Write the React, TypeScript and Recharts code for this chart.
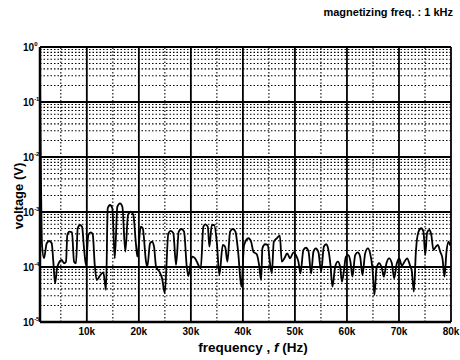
import React from "react";
import { LineChart, Line, XAxis, YAxis, ReferenceLine } from "recharts";

const freqHz = [
  1000, 1390, 1770, 2290, 2790, 3250, 3560, 3890, 4330, 5170, 5620, 6000, 6250, 6640, 7150, 7540, 7920, 8250, 8690, 9080, 9460, 9850,
  10290, 10750, 11140, 11520, 11900, 12400, 13170, 13690, 14020, 14460, 14900, 15370, 15870, 16380, 16830, 17400, 17920, 18440, 18940, 19460, 19710,
  20370, 20750, 21380, 21630, 22150, 22540, 22920, 23310, 23940, 24460, 24980, 25670, 26130, 26630, 27150, 27670, 28170, 28690, 29210, 29520,
  30230, 30810, 31440, 31900, 32400, 32790, 33250, 33560, 34020, 34460, 34980, 35480, 36130, 36580, 37020, 37540, 38060, 38560, 39080, 39710,
  40230, 41060, 41580, 42020, 42670, 43110, 43500, 43750, 44270, 44790, 45170, 45560, 45940, 46520, 47100, 47480, 47980, 48500, 49080, 49710,
  50170, 50670, 51060, 51630, 52100, 52600, 53120, 53560, 54020, 54520, 55040, 55560, 56000, 56440, 56830, 57210, 57730, 58250, 58690, 59020, 59400, 59790,
  60290, 60670, 61060, 61580, 62090, 62540, 62980, 63500, 64020, 64460, 64900, 65290, 65670, 66190, 66710, 67090, 67590, 68110, 68630, 69070, 69590,
  70040, 70560, 71060, 71570, 72090, 72480, 72860, 73250, 73750, 74270, 74710, 75040, 75420, 75810, 76190, 76630, 77100, 77480, 77920, 78360, 78750, 79130, 79520, 79850, 80000,
];

const voltageV = [
  0.3, 2.51e-4, 1.44e-4, 2.7e-4, 2.97e-4, 2.7e-4, 1.25e-4, 5.06e-5, 1.01e-4, 1.34e-4, 1.17e-4, 1.25e-4, 3.82e-4, 4.38e-4, 4.27e-4, 1.25e-4, 1.17e-4, 5.06e-4, 5.8e-4, 5.41e-4, 2.19e-4, 1.06e-4,
  3.82e-4, 4.27e-4, 3.93e-4, 1.09e-4, 5.8e-5, 6.67e-5, 8.01e-5, 3.82e-5, 1.17e-3, 1.34e-3, 1.17e-3, 1.44e-4, 1.25e-3, 1.44e-3, 1.25e-3, 1.9e-4, 8.82e-4, 1.01e-3, 8.82e-4, 2.51e-4, 1.54e-4,
  5.41e-4, 5.06e-4, 1.25e-4, 1.01e-4, 2.7e-4, 2.88e-4, 2.34e-4, 1.01e-4, 8.22e-5, 6.23e-5, 3.33e-5, 4.1e-4, 4.52e-4, 4.1e-4, 1.09e-4, 4.38e-4, 4.91e-4, 4.38e-4, 1.01e-4, 6.86e-5,
  1.54e-4, 1.44e-4, 1.09e-4, 9.46e-5, 5.41e-4, 5.97e-4, 5.41e-4, 2.34e-4, 5.8e-4, 5.8e-4, 2.88e-4, 7.16e-5, 2.51e-4, 2.34e-4, 1.25e-4, 4.38e-4, 4.91e-4, 4.38e-4, 1.9e-4, 4.38e-5,
  2.51e-4, 3.33e-4, 2.88e-4, 1.9e-4, 1.7e-4, 1.09e-4, 5.8e-5, 2.19e-4, 2.59e-4, 2.51e-4, 1.25e-4, 7.68e-5, 2.88e-4, 3.33e-4, 3.71e-4, 1.25e-4, 1.44e-4, 1.77e-4, 1.44e-4, 1.85e-4,
  1.65e-4, 1.25e-4, 7.68e-5, 2.04e-4, 2.24e-4, 1.95e-4, 7.68e-5, 1.9e-4, 2.19e-4, 1.85e-4, 8.22e-5, 2.34e-4, 2.59e-4, 2.04e-4, 1.09e-4, 4.38e-5, 1.01e-4, 1.25e-4, 1.01e-4, 5.4e-5, 8.22e-5, 1.54e-4,
  1.65e-4, 1.25e-4, 6.67e-5, 1.65e-4, 1.85e-4, 1.54e-4, 7.16e-5, 1.77e-4, 2.19e-4, 1.77e-4, 9.46e-5, 3.1e-5, 9.46e-5, 1.17e-4, 9.46e-5, 6.67e-5, 1.17e-4, 1.44e-4, 1.17e-4, 6.23e-5, 1.17e-4,
  1.44e-4, 1.06e-4, 1.25e-4, 1.44e-4, 1.09e-4, 8.22e-5, 3.56e-5, 1.9e-4, 4.38e-4, 5.06e-4, 4.38e-4, 1.65e-4, 4.27e-4, 4.71e-4, 3.93e-4, 2.04e-4, 2.34e-4, 2.51e-4, 1.9e-4, 1.44e-4, 6.67e-5, 1.9e-4, 2.88e-4, 2.51e-4, 2.88e-4,
];

const xTicks = [10000, 20000, 30000, 40000, 50000, 60000, 70000, 80000];
const xTickLabels = ["10k", "20k", "30k", "40k", "50k", "60k", "70k", "80k"];
const xMinorLines = [5000, 15000, 25000, 35000, 45000, 55000, 65000, 75000];

const yTicks = [1e-5, 1e-4, 1e-3, 1e-2, 1e-1, 1];
const yTickExponents = ["-5", "-4", "-3", "-2", "-1", "0"];
const yMinorLines = [
  2e-5, 3e-5, 4e-5, 5e-5, 6e-5, 7e-5, 8e-5, 9e-5,
  2e-4, 3e-4, 4e-4, 5e-4, 6e-4, 7e-4, 8e-4, 9e-4,
  2e-3, 3e-3, 4e-3, 5e-3, 6e-3, 7e-3, 8e-3, 9e-3,
  2e-2, 3e-2, 4e-2, 5e-2, 6e-2, 7e-2, 8e-2, 9e-2,
  0.2, 0.3, 0.4, 0.5, 0.6, 0.7, 0.8, 0.9,
];

const titleText = "magnetizing freq. : 1 kHz";
const xLabel = "frequency , ";
const yLabel = "voltage  (V)";

const data = freqHz.map((f, i) => ({ f, v: voltageV[i] }));

const FONT = "'Liberation Sans', Arial, Helvetica, sans-serif";

const XTick = (props: any) => {
  const { x, y, payload } = props;
  const idx = xTicks.indexOf(payload.value);
  return (
    <text x={x} y={y + 5} textAnchor="middle" fontFamily={FONT} fontWeight="bold" fontSize={10} fill="#000">
      {xTickLabels[idx]}
    </text>
  );
};

const YTick = (props: any) => {
  const { y, payload } = props;
  const idx = yTicks.indexOf(payload.value);
  return (
    <text x={23} y={y + 3.5} fontFamily={FONT} fontWeight="bold" fontSize={10} fill="#000">
      10
      <tspan dy={-4.5} fontSize={6}>{yTickExponents[idx]}</tspan>
    </text>
  );
};

export default function App() {
  return (
    <div style={{ position: "absolute", left: 0, top: 0, width: 460, height: 360, background: "#fff" }}>
      <LineChart
        width={460}
        height={360}
        data={data}
        margin={{ top: 47, right: 9, bottom: 0, left: 0 }}
      >
        {yMinorLines.map((v) => (
          <ReferenceLine key={"ym" + v} y={v} stroke="#000" strokeWidth={1.1} strokeDasharray="1.5 2" ifOverflow="hidden" />
        ))}
        {xMinorLines.map((v) => (
          <ReferenceLine key={"xm" + v} x={v} stroke="#000" strokeWidth={1.1} strokeDasharray="1.5 2" ifOverflow="hidden" />
        ))}
        {yTicks.map((v) => (
          <ReferenceLine key={"yM" + v} y={v} stroke="#000" strokeWidth={1.8} />
        ))}
        {xTicks.map((v) => (
          <ReferenceLine key={"xM" + v} x={v} stroke="#000" strokeWidth={1.8} />
        ))}
        <XAxis
          dataKey="f"
          type="number"
          domain={[1000, 80000]}
          ticks={xTicks}
          interval={0}
          tick={<XTick />}
          tickLine={false}
          axisLine={{ stroke: "#000", strokeWidth: 2.5 }}
          height={38}
          allowDataOverflow
        />
        <YAxis
          dataKey="v"
          type="number"
          scale="log"
          domain={[1e-5, 1]}
          ticks={yTicks}
          interval={0}
          tick={<YTick />}
          tickLine={false}
          axisLine={{ stroke: "#000", strokeWidth: 2.5 }}
          width={40}
          allowDataOverflow
        />
        <Line
          type="monotone"
          dataKey="v"
          stroke="#000"
          strokeWidth={1.8}
          dot={false}
          isAnimationActive={false}
        />
      </LineChart>
      <div style={{ position: "absolute", left: 300, top: 6, width: 153, textAlign: "right", fontFamily: FONT, fontWeight: "bold", fontSize: 11, whiteSpace: "nowrap" }}>
        {titleText}
      </div>
      <div style={{ position: "absolute", left: 40, top: 340, width: 426, textAlign: "center", fontFamily: FONT, fontWeight: "bold", fontSize: 13.5, whiteSpace: "nowrap" }}>
        {xLabel}
        <span style={{ fontStyle: "italic" }}>f</span>
        {" (Hz)"}
      </div>
      <div style={{ position: "absolute", left: 18, top: 196, width: 0, height: 0 }}>
        <div style={{ position: "absolute", left: 0, top: 0, transform: "translate(-50%, -50%) rotate(-90deg)", fontFamily: FONT, fontWeight: "bold", fontSize: 13, whiteSpace: "nowrap" }}>
          {yLabel}
        </div>
      </div>
    </div>
  );
}
